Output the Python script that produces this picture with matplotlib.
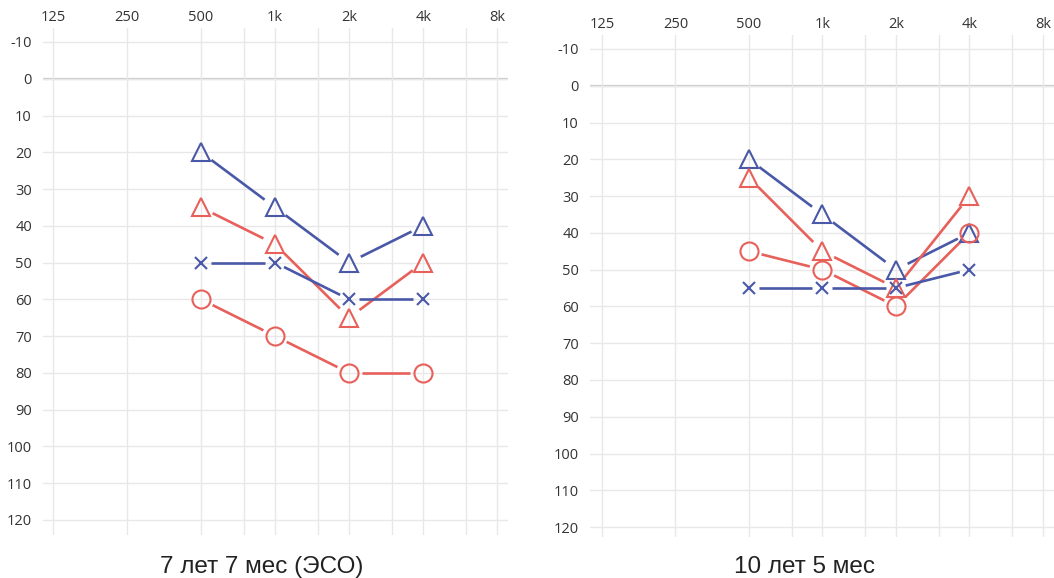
import numpy as np
import matplotlib
matplotlib.use("Agg")
import matplotlib.pyplot as plt

# frequencies (Hz) shown on the audiogram
freqs = [500, 1000, 2000, 4000]
tick_freqs = [125, 250, 500, 1000, 2000, 4000, 8000]
tick_labels = ["125", "250", "500", "1k", "2k", "4k", "8k"]
minor_freqs = [750, 1500, 3000, 6000]
db_ticks = list(range(-10, 121, 10))

# left audiogram: 7 лет 7 мес (ЭСО)
left_blue_tri = [20, 35, 50, 40]
left_red_tri = [35, 45, 65, 50]
left_blue_x = [50, 50, 60, 60]
left_red_circ = [60, 70, 80, 80]

# right audiogram: 10 лет 5 мес
right_blue_tri = [20, 35, 50, 40]
right_red_tri = [25, 45, 55, 30]
right_red_circ = [45, 50, 60, 40]
right_blue_x = [55, 55, 55, 50]

BLUE = "#4a58a8"
RED = "#e8605a"
W, H = 1054, 578


def gapped_line(ax, x, y, color, gap):
    # draw segments that stop short of the markers, like the original
    fig = ax.figure
    fig.canvas.draw()
    pts = ax.transData.transform(np.column_stack([x, y]))
    inv = ax.transData.inverted()
    for i in range(len(pts) - 1):
        p0, p1 = pts[i], pts[i + 1]
        d = p1 - p0
        n = np.hypot(*d)
        u = d / n
        a = inv.transform(p0 + u * gap[i])
        b = inv.transform(p1 - u * gap[i + 1])
        ax.plot([a[0], b[0]], [a[1], b[1]], color=color, lw=1.9,
                solid_capstyle="butt", zorder=3)


def audiogram(rect, xlim, ylim, series):
    ax = plt.gcf().add_axes(rect)
    ax.set_xscale("log", base=2)
    ax.set_xlim(*xlim)
    ax.set_ylim(*ylim)
    ax.set_xticks(tick_freqs)
    ax.set_xticklabels(tick_labels)
    ax.set_xticks(minor_freqs, minor=True)
    ax.xaxis.set_minor_formatter(plt.NullFormatter())
    ax.set_yticks(db_ticks)
    ax.xaxis.tick_top()
    ax.tick_params(axis="both", which="both", length=0, labelsize=10.5,
                   labelcolor="#333333")
    ax.tick_params(axis="x", pad=2)
    ax.tick_params(axis="y", pad=8)
    ax.grid(True, which="both", color="#e8e8e8", lw=1.0)
    ax.axhline(0, color="#c9c9c9", lw=1.6, zorder=1)
    for s in ax.spines.values():
        s.set_visible(False)
    for vals, color, marker, ms, gap in series:
        gapped_line(ax, freqs, vals, color, [gap] * len(vals))
        ax.plot(freqs, vals, linestyle="none", marker=marker, ms=ms,
                mfc="none", mec=color, mew=1.5, zorder=4)
    return ax


fig = plt.figure(figsize=(W / 100, H / 100), dpi=100)
plt.rcParams["font.family"] = ["Open Sans", "DejaVu Sans"]
plt.rcParams["axes.unicode_minus"] = False

audiogram([43 / W, 1 - 535 / H, 465 / W, 507 / H], (114.0, 8848), (124.1, -13.8),
          [(left_blue_tri, BLUE, "^", 13, 13),
           (left_red_tri, RED, "^", 13, 13),
           (left_blue_x, BLUE, "x", 9, 10),
           (left_red_circ, RED, "o", 13, 13)])

audiogram([590 / W, 1 - 537 / H, 464 / W, 502 / H], (111.7, 8875), (122.7, -13.8),
          [(right_blue_tri, BLUE, "^", 13, 13),
           (right_red_tri, RED, "^", 13, 13),
           (right_red_circ, RED, "o", 13, 13),
           (right_blue_x, BLUE, "x", 9, 10)])

fig.text(262 / W, 1 - 573 / H, "7 лет 7 мес (ЭСО)", ha="center", va="baseline",
         fontsize=17.5, family=["Liberation Sans", "DejaVu Sans"], color="#222222")
fig.text(804 / W, 1 - 573 / H, "10 лет 5 мес", ha="center", va="baseline",
         fontsize=17.5, family=["Liberation Sans", "DejaVu Sans"], color="#222222")

fig.savefig("out.png", dpi=100)
